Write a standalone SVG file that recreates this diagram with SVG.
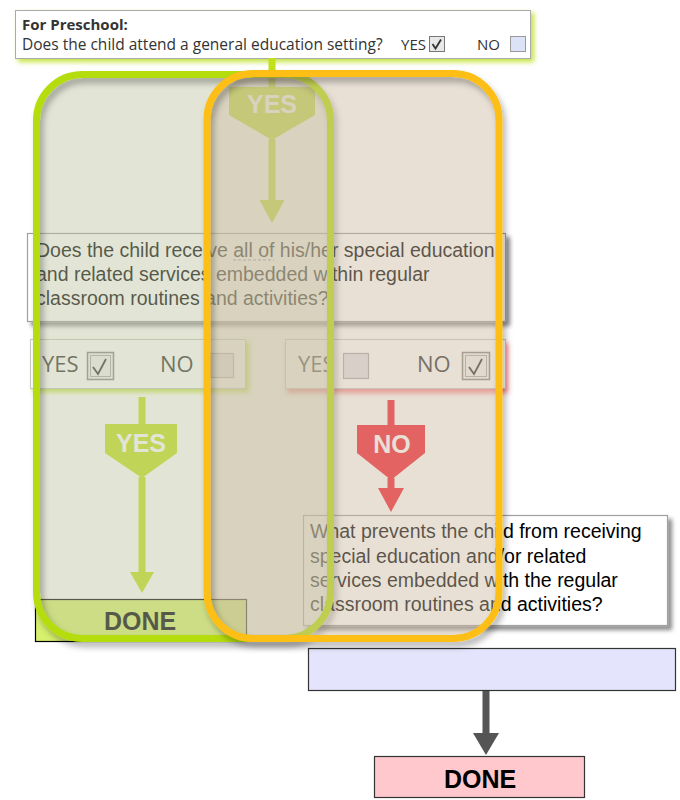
<svg xmlns="http://www.w3.org/2000/svg" width="680" height="800" viewBox="0 0 680 800">
<defs>
<style>
.hum{font-family:"Open Sans","Noto Sans",sans-serif;fill:#333}
.qt{font-family:"Liberation Sans",Arial,sans-serif;font-size:19.5px;fill:#000}
.box{fill:#fff;stroke:#a0a0a0;stroke-width:1.2}
.ck{fill:none;stroke:#333;stroke-width:1.8}
.lbl{font-family:"Liberation Sans",Arial,sans-serif;font-weight:bold;font-size:25px;fill:#fff;text-anchor:middle}
.done{font-family:"Liberation Sans",Arial,sans-serif;font-weight:bold;font-size:25px;fill:#000;text-anchor:middle}
.grn{fill:#c2e01b}
.red{fill:#f41c2c}
</style>
<filter id="sh" x="-10%" y="-10%" width="130%" height="140%"><feDropShadow dx="4" dy="4" stdDeviation="2" flood-color="#000" flood-opacity="0.45"/></filter>
<filter id="glowG" x="-10%" y="-20%" width="130%" height="160%"><feDropShadow dx="3" dy="3" stdDeviation="2.5" flood-color="#b5dc10" flood-opacity="0.8"/></filter>
<filter id="glowR" x="-10%" y="-20%" width="130%" height="160%"><feDropShadow dx="2" dy="4" stdDeviation="2.5" flood-color="#f03040" flood-opacity="0.6"/></filter>
<filter id="rsh" x="-10%" y="-5%" width="130%" height="115%"><feDropShadow dx="3" dy="5" stdDeviation="3" flood-color="#000" flood-opacity="0.3"/></filter>
</defs>
<rect width="680" height="800" fill="#fff"/>

<g id="top-question">
<rect x="15.5" y="10.5" width="515" height="48" fill="#fff" stroke="#aaa" filter="url(#glowG)"/>
<text class="hum" x="22" y="30" font-size="15" font-weight="bold">For Preschool:</text>
<text class="hum" x="22" y="50" font-size="15.5">Does the child attend a general education setting?</text>
<text class="hum" x="401" y="50" font-size="15">YES</text>
<rect x="429.5" y="36.5" width="15" height="15" fill="#e8e8e8" stroke="#777"/>
<polyline class="ck" points="432.5,44 435.5,48.5 441,39.5"/>
<text class="hum" x="477" y="50" font-size="15">NO</text>
<rect x="510.5" y="36.5" width="15" height="15" fill="#dce3f6" stroke="#999"/>
</g>

<g id="connectors">
<rect class="grn" x="268.5" y="58" width="7" height="30"/>
<polygon class="grn" points="229,87 315,87 315,115 272,140 229,115"/>
<rect class="grn" x="268.5" y="139" width="7" height="63"/>
<polygon class="grn" points="259.5,200 284.5,200 272,223"/>
<rect class="grn" x="138.5" y="397" width="7" height="28"/>
<polygon class="grn" points="105,424 177,424 177,453 142,478 105,453"/>
<rect class="grn" x="138.5" y="477" width="7" height="97"/>
<polygon class="grn" points="130,572 154,572 142,593"/>
<rect class="red" x="387.5" y="400" width="7" height="26"/>
<polygon class="red" points="357,425 425,425 425,453 391,480 357,453"/>
<rect class="red" x="387.5" y="478" width="7" height="12"/>
<polygon class="red" points="378,488 404,488 391,512"/>
<text class="lbl" x="272" y="113">YES</text>
<text class="lbl" x="141" y="452">YES</text>
<text class="lbl" x="392" y="453">NO</text>
</g>

<g id="question-embedded">
<rect class="box" x="27.5" y="233.5" width="478" height="88" filter="url(#sh)"/>
<text class="qt" x="36" y="257">Does the child receive all of his/her special education</text>
<text class="qt" x="36" y="281">and related services embedded within regular</text>
<text class="qt" x="36" y="305">classroom routines and activities?</text>
<line x1="233" y1="260" x2="274" y2="260" stroke="#8a7fb8" stroke-width="1" stroke-dasharray="3,2"/>
</g>

<g id="answer-yes">
<rect x="30.5" y="339.5" width="215" height="49" fill="#fff" stroke="#c8c8c8" filter="url(#glowG)"/>
<text class="hum" x="42" y="372" font-size="22">YES</text>
<rect x="87.5" y="352.5" width="26" height="27" fill="#f2f2f2" stroke="#888" stroke-width="1.5"/>
<rect x="90.5" y="355.5" width="20" height="21" fill="none" stroke="#aaa" stroke-width="1"/>
<polyline class="ck" points="93,367 98,374 106,359"/>
<text class="hum" x="160" y="372" font-size="22">NO</text>
<rect x="210.5" y="353.5" width="23" height="24" fill="#e6e6ea" stroke="#aaa" stroke-width="1.2"/>
</g>

<g id="answer-no">
<rect x="285.5" y="339.5" width="220" height="49" fill="#fff" stroke="#c8c8c8" filter="url(#glowR)"/>
<text class="hum" x="298" y="372" font-size="22">YES</text>
<rect x="343.5" y="353.5" width="25" height="25" fill="#e0e0e8" stroke="#aaa" stroke-width="1.2"/>
<text class="hum" x="417" y="372" font-size="22">NO</text>
<rect x="462.5" y="352.5" width="27" height="27" fill="#f2f2f2" stroke="#888" stroke-width="1.5"/>
<rect x="465.5" y="355.5" width="21" height="21" fill="none" stroke="#aaa" stroke-width="1"/>
<polyline class="ck" points="469,367 474,374 482,359"/>
</g>

<g id="question-prevents">
<rect class="box" x="303.5" y="515.5" width="364" height="110" filter="url(#sh)"/>
<text class="qt" x="310" y="538">What prevents the child from receiving</text>
<text class="qt" x="310" y="563">special education and/or related</text>
<text class="qt" x="310" y="587">services embedded with the regular</text>
<text class="qt" x="310" y="611">classroom routines and activities?</text>
</g>

<g id="done-left">
<rect x="35.5" y="599.5" width="211" height="42" fill="#d7f06e" stroke="#000" stroke-width="1.2"/>
<text class="done" x="140" y="630">DONE</text>
</g>

<g id="blank-box">
<rect x="308.5" y="648.5" width="367" height="42" fill="#e4e4fc" stroke="#333" stroke-width="1.2"/>
</g>

<g id="connector-bottom">
<rect x="482.5" y="691" width="7" height="44" fill="#555"/>
<polygon points="473,733 499,733 486,755" fill="#555"/>
</g>

<g id="done-right">
<rect x="374.5" y="756.5" width="210" height="41" fill="#ffc8cc" stroke="#333" stroke-width="1.2"/>
<text class="done" x="480" y="788">DONE</text>
</g>

<g id="highlight-green">
<rect x="36.5" y="74.5" width="294" height="564" rx="46" fill="#bec5a2" fill-opacity="0.45"/>
<rect x="36.5" y="74.5" width="294" height="564" rx="46" fill="none" stroke="#b5dc10" stroke-width="7" filter="url(#rsh)"/>
</g>
<g id="highlight-orange">
<rect x="207" y="73.5" width="292" height="565" rx="46" fill="#ccbaa2" fill-opacity="0.45"/>
<rect x="207" y="73.5" width="292" height="565" rx="46" fill="none" stroke="#fdbf14" stroke-width="7" filter="url(#rsh)"/>
</g>
</svg>
